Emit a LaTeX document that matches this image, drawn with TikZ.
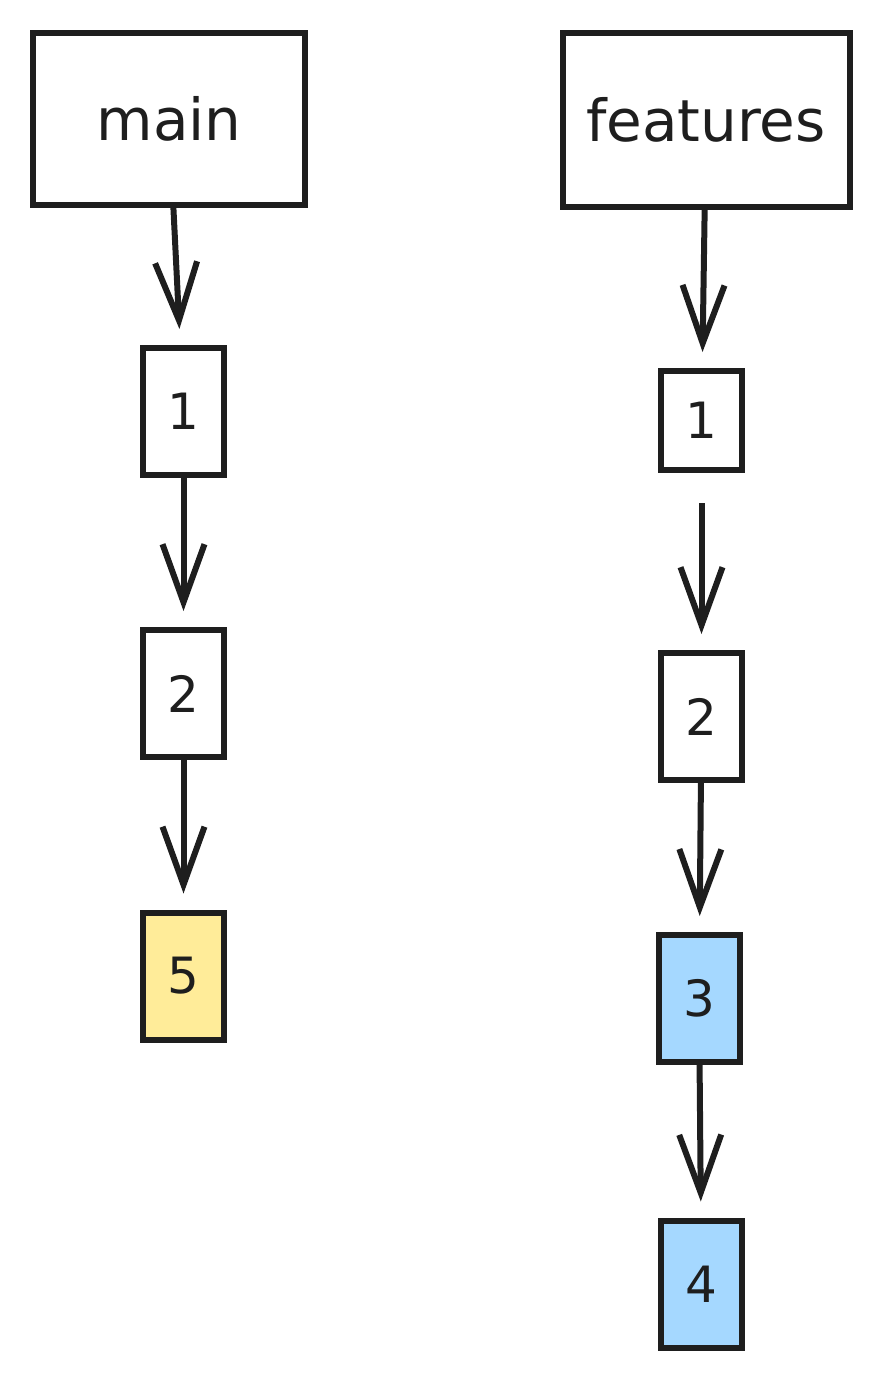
\documentclass[tikz,border=0pt]{standalone}
\usepackage{fontspec}
\setmainfont{DejaVu Sans}
\usetikzlibrary{arrows.meta}
\definecolor{ink}{HTML}{1E1E1E}
\definecolor{yellowfill}{HTML}{FFEC99}
\definecolor{bluefill}{HTML}{A5D8FF}
\tikzset{
  branch/.style={draw=ink, line width=3pt, inner sep=0pt, text=ink, font=\fontsize{29}{31}\selectfont},
  commit/.style={draw=ink, line width=3pt, inner sep=0pt, text=ink, minimum width=40.5pt, minimum height=63.5pt, font=\fontsize{25}{27}\selectfont},
  link/.style={draw=ink, line width=3pt, shorten >=8pt, -{Straight Barb[length=29pt,width=21pt]}}
}
\begin{document}
\begin{tikzpicture}[x=0.5pt,y=-0.5pt]
	\useasboundingbox (0,0) rectangle (884,1380);

	%Branches
	\node[branch, minimum width=136pt, minimum height=86pt] (main) at (169,119) {main};
	\node[branch, minimum width=143.5pt, minimum height=87pt] (features) at (706,120) {features};

	%Commits on main
	\node[commit] (m1) at (183.5,411.5) {1};
	\node[commit] (m2) at (183.5,693.5) {2};
	\node[commit, fill=yellowfill] (m5) at (183.5,976) {5};

	%Commits on features
	\node[commit, minimum height=49.5pt] (f1) at (701.5,420.5) {1};
	\node[commit] (f2) at (701.5,716.5) {2};
	\node[commit, fill=bluefill] (f3) at (699,998.5) {3};
	\node[commit, fill=bluefill] (f4) at (701.5,1284) {4};

	%Links
	\draw[link] (main) -- (m1);
	\draw[link] (m1) -- (m2);
	\draw[link] (m2) -- (m5);
	\draw[link] (features) -- (f1);
	\draw[link, shorten <=15pt] (f1) -- (f2);
	\draw[link] (f2) -- (f3);
	\draw[link] (f3) -- (f4);

\end{tikzpicture}
\end{document}
